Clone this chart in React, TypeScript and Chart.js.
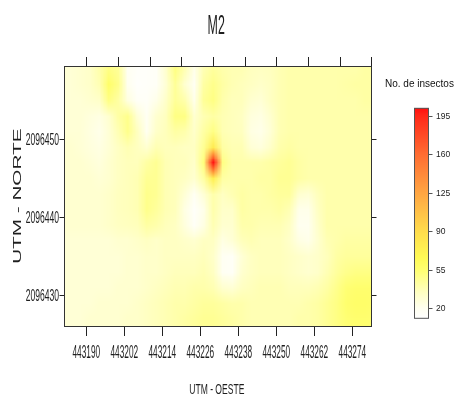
import React, { useEffect, useRef } from "react";
import { Chart, registerables } from "chart.js";

Chart.register(...registerables);

const titleText = "M2";
const xAxisTitle = "UTM - OESTE";
const yAxisTitle = "UTM - NORTE";
const legendTitle = "No. de insectos";

const xMin = 443182.96;
const xMax = 443280.2;
const yMin = 2096425.9;
const yMax = 2096459.36;

const xTickValues = [443190, 443202, 443214, 443226, 443238, 443250, 443262, 443274];
const xTopTickValues = [443190, 443200, 443210, 443220, 443230, 443240, 443250, 443260, 443270, 443280];
const yTickValues = [2096430, 2096440, 2096450];

const legendTickValues = [20, 55, 90, 125, 160, 195];
const legendMin = 10.9;
const legendMax = 201.8;

const paletteValues = [10.9, 20, 35, 55, 66, 90, 125, 160, 195, 201.8];
const paletteColors = [
  "#FFFFFF", "#FFFFF0", "#FFFFC0", "#FFFF70", "#FFFA55",
  "#FFDC4C", "#FFA542", "#FF6C32", "#FF2818", "#FF1010",
];

// grid node coordinates (UTM)
const gridX = [
  443182, 443185, 443188, 443191, 443194, 443197, 443200, 443203, 443206, 443209,
  443212, 443215, 443218, 443221, 443224, 443227, 443230, 443233, 443236, 443239,
  443242, 443245, 443248, 443251, 443254, 443257, 443260, 443263, 443266, 443269,
  443272, 443275, 443278, 443281,
];
const gridY = [
  2096461, 2096459, 2096457, 2096455, 2096453, 2096451, 2096449, 2096447, 2096445, 2096443,
  2096441, 2096439, 2096437, 2096435, 2096433, 2096431, 2096429, 2096427, 2096425,
];

// estimated number of insects at each grid node (rows follow gridY, columns follow gridX)
const insectCounts = [
  [28,28,30,32,40,50,45,18,14,14,16,30,50,38,22,38,44,40,38,38,35,34,35,38,40,40,40,40,40,40,40,40,42,42],
  [28,28,30,32,40,50,45,18,14,14,16,30,50,38,22,38,44,40,38,38,35,34,35,38,40,40,40,40,40,40,40,40,42,42],
  [28,28,30,32,38,58,48,20,13,14,16,28,45,30,18,42,48,42,38,36,34,32,34,38,40,40,40,40,40,40,41,42,42,42],
  [28,28,28,30,32,50,42,25,16,15,22,32,45,40,22,45,50,40,36,36,30,28,34,38,40,40,40,40,40,40,40,40,42,42],
  [28,28,28,26,24,30,42,48,28,18,30,35,50,50,30,38,42,38,36,34,26,24,30,38,40,40,40,40,40,40,40,40,40,40],
  [28,28,28,25,22,28,38,48,35,20,32,36,42,40,32,42,50,38,36,35,24,22,28,38,40,40,40,40,40,40,40,40,40,40],
  [30,30,28,26,24,28,34,38,35,30,38,36,36,34,34,46,78,42,38,38,28,26,32,40,42,40,40,40,40,40,40,40,40,40],
  [30,30,30,28,26,30,34,36,36,42,46,38,36,36,32,52,200,50,40,40,40,40,42,44,46,42,40,40,40,40,40,40,40,40],
  [30,30,30,30,28,30,34,36,38,46,46,38,36,34,30,42,74,42,40,40,40,42,42,46,46,42,40,40,40,40,40,40,40,40],
  [30,30,30,30,30,32,35,36,38,48,46,38,36,28,18,28,40,34,38,42,40,40,42,44,44,30,28,36,40,40,40,40,40,40],
  [30,30,30,30,30,32,35,36,38,48,44,38,36,24,14,22,40,32,32,42,40,40,40,42,38,22,22,34,40,40,40,40,40,40],
  [30,30,30,30,30,32,34,35,36,42,40,36,34,26,16,24,38,30,30,40,40,38,38,38,34,20,20,32,40,40,40,40,40,40],
  [28,28,28,28,28,28,30,30,32,34,32,34,34,32,30,34,34,24,28,36,38,36,36,36,32,24,22,30,38,40,42,42,42,42],
  [28,28,28,28,28,28,28,30,30,32,32,34,34,34,34,36,32,18,16,28,34,36,36,36,34,32,30,32,36,42,44,44,44,44],
  [28,28,28,28,28,28,28,30,30,32,32,34,36,36,36,38,34,18,16,30,34,36,36,36,34,32,30,32,38,44,48,50,50,50],
  [28,28,28,28,28,28,30,30,30,32,34,36,38,38,40,40,38,30,28,34,36,38,38,38,36,36,36,38,42,48,54,56,56,56],
  [28,28,28,28,30,30,30,30,32,34,36,38,40,40,42,44,44,42,40,40,38,38,38,38,38,38,40,42,46,50,56,58,58,56],
  [28,28,28,30,30,30,30,32,32,34,36,38,40,42,44,46,46,44,42,40,38,38,38,38,38,40,40,42,46,50,54,56,56,54],
  [28,28,28,30,30,30,30,32,32,34,36,38,40,42,44,46,46,44,42,40,38,38,38,38,38,40,40,42,46,50,54,56,56,54],
];

function hexToRgb(h: string): number[] {
  return [parseInt(h.slice(1, 3), 16), parseInt(h.slice(3, 5), 16), parseInt(h.slice(5, 7), 16)];
}

function colorFor(v: number): number[] {
  if (v <= paletteValues[0]) return hexToRgb(paletteColors[0]);
  for (let k = 1; k < paletteValues.length; k++) {
    if (v <= paletteValues[k]) {
      const t = (v - paletteValues[k - 1]) / (paletteValues[k] - paletteValues[k - 1]);
      const a = hexToRgb(paletteColors[k - 1]);
      const b = hexToRgb(paletteColors[k]);
      return [0, 1, 2].map((i) => Math.round(a[i] + (b[i] - a[i]) * t));
    }
  }
  return hexToRgb(paletteColors[paletteColors.length - 1]);
}

function drawText(
  ctx: CanvasRenderingContext2D, text: string, x: number, y: number, font: string,
  sx: number, align: CanvasTextAlign, baseline: CanvasTextBaseline, rot = 0, color = "#1e1e1e"
) {
  ctx.save();
  ctx.translate(x, y);
  if (rot) ctx.rotate(rot);
  ctx.scale(sx, 1);
  ctx.font = font;
  ctx.fillStyle = color;
  ctx.textAlign = align;
  ctx.textBaseline = baseline;
  ctx.fillText(text, 0, 0);
  ctx.restore();
}

const heatPlugin = {
  id: "heatRaster",
  beforeDatasetsDraw(chart: any) {
    const { ctx, chartArea: a, scales } = chart;
    const xs = scales.x, ys = scales.y;
    const cols = gridX.length, rows = gridY.length;
    const off = document.createElement("canvas");
    off.width = cols;
    off.height = rows;
    const octx = off.getContext("2d")!;
    const img = octx.createImageData(cols, rows);
    for (let r = 0; r < rows; r++) {
      for (let c = 0; c < cols; c++) {
        const col = colorFor(insectCounts[r][c]);
        const p = (r * cols + c) * 4;
        img.data[p] = col[0];
        img.data[p + 1] = col[1];
        img.data[p + 2] = col[2];
        img.data[p + 3] = 255;
      }
    }
    octx.putImageData(img, 0, 0);
    const dx = gridX[1] - gridX[0];
    const dy = gridY[0] - gridY[1];
    const left = xs.getPixelForValue(gridX[0] - dx / 2);
    const right = xs.getPixelForValue(gridX[cols - 1] + dx / 2);
    const top = ys.getPixelForValue(gridY[0] + dy / 2);
    const bottom = ys.getPixelForValue(gridY[rows - 1] - dy / 2);
    ctx.save();
    ctx.beginPath();
    ctx.rect(a.left, a.top, a.right - a.left, a.bottom - a.top);
    ctx.clip();
    ctx.imageSmoothingEnabled = true;
    ctx.drawImage(off, left, top, right - left, bottom - top);
    ctx.restore();
  },
  afterDraw(chart: any) {
    const { ctx, chartArea: a, scales } = chart;
    const xs = scales.x, ys = scales.y;
    ctx.save();
    ctx.strokeStyle = "#333333";
    ctx.lineWidth = 1;
    ctx.strokeRect(a.left + 0.5, a.top + 0.5, a.right - a.left - 1, a.bottom - a.top - 1);
    ctx.strokeStyle = "#222222";
    ctx.beginPath();
    for (const v of xTickValues) {
      const px = Math.round(xs.getPixelForValue(v)) + 0.5;
      ctx.moveTo(px, a.bottom);
      ctx.lineTo(px, a.bottom + 9);
    }
    for (const v of xTopTickValues) {
      const px = Math.round(xs.getPixelForValue(v)) + 0.5;
      ctx.moveTo(px, a.top);
      ctx.lineTo(px, a.top - 9);
    }
    for (const v of yTickValues) {
      const py = Math.round(ys.getPixelForValue(v)) + 0.5;
      ctx.moveTo(a.left, py);
      ctx.lineTo(a.left - 4.5, py);
      ctx.moveTo(a.right, py);
      ctx.lineTo(a.right + 4.5, py);
    }
    ctx.stroke();
    ctx.restore();

    for (const v of xTickValues) {
      drawText(ctx, String(v), xs.getPixelForValue(v), a.bottom + 30.5, "17.5px 'Liberation Sans', Arial", 0.474, "center", "alphabetic");
    }
    for (const v of yTickValues) {
      drawText(ctx, String(v), a.left - 5, ys.getPixelForValue(v) + 6.3, "16px 'Liberation Sans', Arial", 0.535, "right", "alphabetic");
    }
    drawText(ctx, titleText, 216.2, 33.6, "27px 'Liberation Sans', Arial", 0.46, "center", "alphabetic");
    drawText(ctx, xAxisTitle, 216.8, 394, "15px 'Liberation Sans', Arial", 0.57, "center", "alphabetic");
    drawText(ctx, yAxisTitle, 20.7, 196.2, "10px 'Liberation Sans', Arial", 2.07, "center", "alphabetic", -Math.PI / 2);

    const kLeft = 414.5, kRight = 428.5, kTop = 108.3, kBottom = 318.3;
    const kPix = (v: number) => kBottom - ((v - legendMin) / (legendMax - legendMin)) * (kBottom - kTop);
    for (let py = Math.floor(kTop); py < Math.ceil(kBottom); py++) {
      const v = legendMin + ((kBottom - (py + 0.5)) / (kBottom - kTop)) * (legendMax - legendMin);
      const c = colorFor(v);
      ctx.fillStyle = `rgb(${c[0]},${c[1]},${c[2]})`;
      ctx.fillRect(kLeft, py, kRight - kLeft, 1);
    }
    ctx.save();
    ctx.strokeStyle = "#555555";
    ctx.lineWidth = 1;
    ctx.strokeRect(kLeft, kTop, kRight - kLeft, kBottom - kTop);
    ctx.beginPath();
    for (const v of legendTickValues) {
      const py = Math.round(kPix(v)) + 0.5;
      ctx.moveTo(kRight, py);
      ctx.lineTo(kRight + 4, py);
    }
    ctx.stroke();
    ctx.restore();
    for (const v of legendTickValues) {
      drawText(ctx, String(v), 436, kPix(v) + 0.5, "8.5px 'Liberation Sans', Arial", 1.0, "left", "middle", 0, "#222222");
    }
    drawText(ctx, legendTitle, 385, 86.7, "10px 'Liberation Sans', Arial", 1.0, "left", "alphabetic", 0, "#111111");
  },
};

export default function App() {
  const canvasRef = useRef<HTMLCanvasElement | null>(null);
  useEffect(() => {
    if (!canvasRef.current) return;
    const chart = new Chart(canvasRef.current, {
      type: "scatter",
      data: { datasets: [{ data: [], pointRadius: 0 }] },
      options: {
        responsive: false,
        animation: false,
        devicePixelRatio: 1,
        layout: { padding: { left: 64, top: 66, right: 85, bottom: 69 } },
        plugins: { legend: { display: false }, tooltip: { enabled: false }, title: { display: false } },
        scales: {
          x: { type: "linear", min: xMin, max: xMax, display: false },
          y: { type: "linear", min: yMin, max: yMax, display: false },
        },
      },
      plugins: [heatPlugin],
    } as any);
    return () => chart.destroy();
  }, []);
  return (
    <div style={{ position: "absolute", left: 0, top: 0, width: 457, height: 396, background: "#ffffff" }}>
      <canvas ref={canvasRef} width={457} height={396} style={{ width: 457, height: 396, display: "block" }} />
    </div>
  );
}
